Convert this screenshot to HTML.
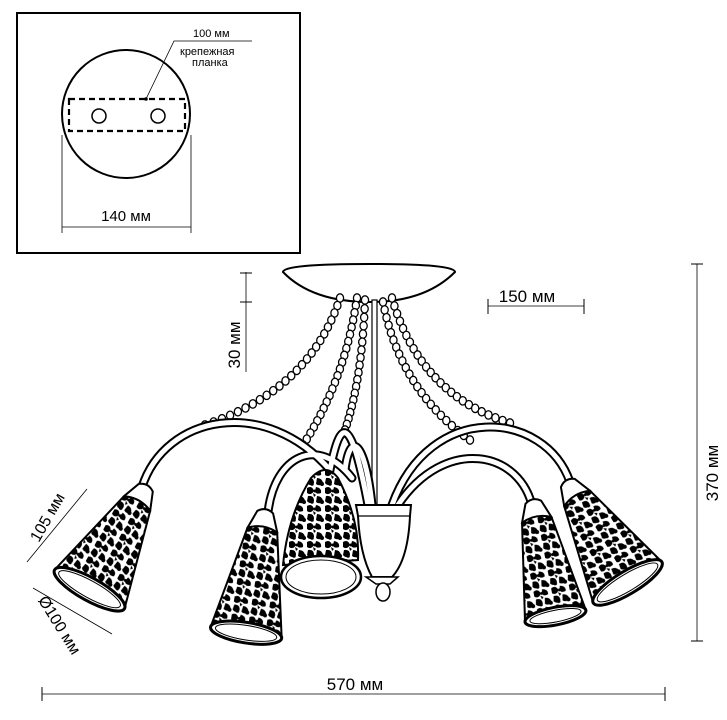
<!DOCTYPE html>
<html><head><meta charset="utf-8"><style>
html,body{margin:0;padding:0;background:#fff;}
svg{display:block;font-family:"Liberation Sans",sans-serif;}
</style></head><body>
<svg id="s" width="727" height="720" viewBox="0 0 727 720" xmlns="http://www.w3.org/2000/svg">
<defs>
<pattern id="lace" width="18" height="18" patternUnits="userSpaceOnUse">
<rect width="18" height="18" fill="#fff"/>
<path d="M1,2 q5,-3 7,3 q-3,5 -7,2z M10,1 q6,1 5,6 q-5,2 -6,-2z M2,10 q6,-1 6,5 q-4,4 -7,0z M11,10 q5,0 6,5 q-3,4 -7,1z M7,7 l3,2 l-2,2z" fill="#000"/>
<circle cx="16" cy="16" r="2" fill="#000"/><circle cx="6" cy="16" r="1.8" fill="#000"/><circle cx="9" cy="5" r="1.5" fill="#000"/>
</pattern>
</defs>
<!-- top box -->
<rect x="17" y="13" width="283" height="240" fill="none" stroke="#000" stroke-width="2"/>
<circle cx="126" cy="114" r="64" fill="none" stroke="#000" stroke-width="2"/>
<rect x="69" y="99" width="116" height="32" fill="none" stroke="#000" stroke-width="2.2" stroke-dasharray="6,4"/>
<circle cx="99" cy="116" r="7" fill="none" stroke="#000" stroke-width="1.5"/>
<circle cx="158" cy="116" r="7" fill="none" stroke="#000" stroke-width="1.5"/>
<circle cx="146" cy="99" r="1.8"/>
<polyline points="146,99 174,41 252,41" fill="none" stroke="#000" stroke-width="0.8"/>
<text x="193" y="37" font-size="11">100 мм</text>
<text x="180" y="55" font-size="11">крепежная</text>
<text x="192" y="66" font-size="11">планка</text>
<line x1="62" y1="135" x2="62" y2="233" stroke="#000" stroke-width="0.8"/>
<line x1="191" y1="135" x2="191" y2="233" stroke="#000" stroke-width="0.8"/>
<line x1="62" y1="227" x2="191" y2="227" stroke="#000" stroke-width="0.8"/>
<text x="126" y="221" font-size="15" text-anchor="middle">140 мм</text>

<!-- dims -->
<line x1="246" y1="272" x2="246" y2="372" stroke="#000" stroke-width="0.8"/>
<line x1="240" y1="273" x2="252" y2="273" stroke="#000"/><line x1="240" y1="302" x2="252" y2="302" stroke="#000"/>
<text transform="translate(240,345) rotate(-90)" font-size="17" text-anchor="middle">30 мм</text>
<line x1="488" y1="306" x2="584" y2="306" stroke="#000" stroke-width="0.8"/>
<line x1="488" y1="299" x2="488" y2="314" stroke="#000"/><line x1="584" y1="299" x2="584" y2="314" stroke="#000"/>
<text x="527" y="302" font-size="17" text-anchor="middle">150 мм</text>
<line x1="697" y1="264" x2="697" y2="641" stroke="#000" stroke-width="0.8"/>
<line x1="691" y1="264" x2="703" y2="264" stroke="#000"/><line x1="691" y1="641" x2="703" y2="641" stroke="#000"/>
<text transform="translate(718,473) rotate(-90)" font-size="17" text-anchor="middle">370 мм</text>
<line x1="42" y1="694" x2="665" y2="694" stroke="#000" stroke-width="0.8"/>
<line x1="42" y1="687" x2="42" y2="701" stroke="#000"/><line x1="665" y1="687" x2="665" y2="701" stroke="#000"/>
<text x="355" y="690" font-size="17" text-anchor="middle">570 мм</text>
<line x1="27" y1="562" x2="87" y2="489" stroke="#000" stroke-width="0.8"/>
<text transform="translate(52,520) rotate(-60)" font-size="16" text-anchor="middle">105 мм</text>
<line x1="33" y1="588" x2="112" y2="634" stroke="#000" stroke-width="0.8"/>
<text transform="translate(55,628) rotate(58)" font-size="16" text-anchor="middle">Ø100 мм</text>

<!-- canopy and stem -->
<path d="M283,272 Q283,264 370,264 Q455,264 455,272 Q425,302 370,302 Q312,302 283,272Z" fill="#fff" stroke="#000" stroke-width="2"/>
<rect x="372" y="300" width="5" height="205" fill="#fff" stroke="#000" stroke-width="1.2"/>
<g id="beads" fill="#fff" stroke="#000" stroke-width="1.3"></g>
<!-- arms -->
<g fill="none" stroke-linecap="round">
<g stroke="#000" stroke-width="9">
<path d="M142,487 C165,415 265,395 330,470"/>
<path d="M268,512 C275,455 318,435 352,478"/>
<path d="M570,482 C545,410 430,400 392,505"/>
<path d="M533,510 C522,450 445,435 398,505"/>
<path d="M330,470 C340,420 350,410 368,505"/>
<path d="M345,470 C350,430 365,440 372,505"/>
</g>
<g stroke="#fff" stroke-width="5">
<path d="M142,487 C165,415 265,395 330,470"/>
<path d="M268,512 C275,455 318,435 352,478"/>
<path d="M570,482 C545,410 430,400 392,505"/>
<path d="M533,510 C522,450 445,435 398,505"/>
<path d="M330,470 C340,420 350,410 368,505"/>
<path d="M345,470 C350,430 365,440 372,505"/>
</g></g>
<!-- cup -->
<path d="M356,505 L411,505 L410,516 Q408,560 392,577 L372,577 Q360,555 358,516Z" fill="#fff" stroke="#000" stroke-width="2"/>
<line x1="357" y1="516" x2="410" y2="516" stroke="#000" stroke-width="1.2"/>
<path d="M366,577 L398,577 L390,584 L376,584Z" fill="#fff" stroke="#000" stroke-width="1.5"/>
<ellipse cx="383" cy="592" rx="7" ry="9" fill="#fff" stroke="#000" stroke-width="1.5"/>
<g id="shades"></g>
</svg>
<script>
var NS="http://www.w3.org/2000/svg";
function el(t,a,p){var e=document.createElementNS(NS,t);for(var k in a)e.setAttribute(k,a[k]);p.appendChild(e);return e;}
var b=document.getElementById('beads');
function chain(p0,p1,p2,n){for(var i=0;i<=n;i++){var t=i/n,u=1-t;var x=u*u*p0[0]+2*u*t*p1[0]+t*t*p2[0],y=u*u*p0[1]+2*u*t*p1[1]+t*t*p2[1];el('ellipse',{cx:x,cy:y,rx:3.6,ry:4.2},b);}}
chain([340,298],[310,390],[205,425],24);
chain([357,298],[345,380],[303,445],22);
chain([365,300],[362,380],[345,430],18);
chain([392,298],[420,395],[510,423],24);
chain([383,302],[400,390],[470,440],22);
var s=document.getElementById('shades');
function shade(x,y,rot,len,w0,w1){
 var g=el('g',{transform:'translate('+x+','+y+') rotate('+rot+')'},s);
 el('path',{d:'M-8,-14 Q0,-20 8,-14 L'+(w0/2)+',4 L'+(-w0/2)+',4Z',fill:'#fff',stroke:'#000','stroke-width':2},g);
 el('path',{d:'M'+(-w0/2)+',4 Q0,-3 '+(w0/2)+',4 L'+(w1/2)+','+len+' L'+(-w1/2)+','+len+'Z',fill:'url(#lace)',stroke:'#000','stroke-width':2},g);
 el('ellipse',{cx:0,cy:len,rx:w1/2,ry:w1/7,fill:'#fff',stroke:'#000','stroke-width':3},g);
 el('ellipse',{cx:0,cy:len,rx:w1/2-5,ry:w1/7-3,fill:'none',stroke:'#000','stroke-width':1},g);
}
shade(139,500,29,102,30,80);
shade(263,526,9,108,30,72);
shade(575,495,-31,102,30,80);
shade(536,516,-11,102,30,62);
var g=el('g',{},s);
el('path',{d:'M311,478 Q326,462 338,478 Q360,520 358,560 L283,565 Q288,515 311,478Z',fill:'url(#lace)',stroke:'#000','stroke-width':2},g);
el('ellipse',{cx:321,cy:577,rx:40,ry:21,fill:'#fff',stroke:'#000','stroke-width':2.5},g);
el('ellipse',{cx:321,cy:577,rx:35,ry:17,fill:'none',stroke:'#000','stroke-width':1},g);
</script>
</body></html>
